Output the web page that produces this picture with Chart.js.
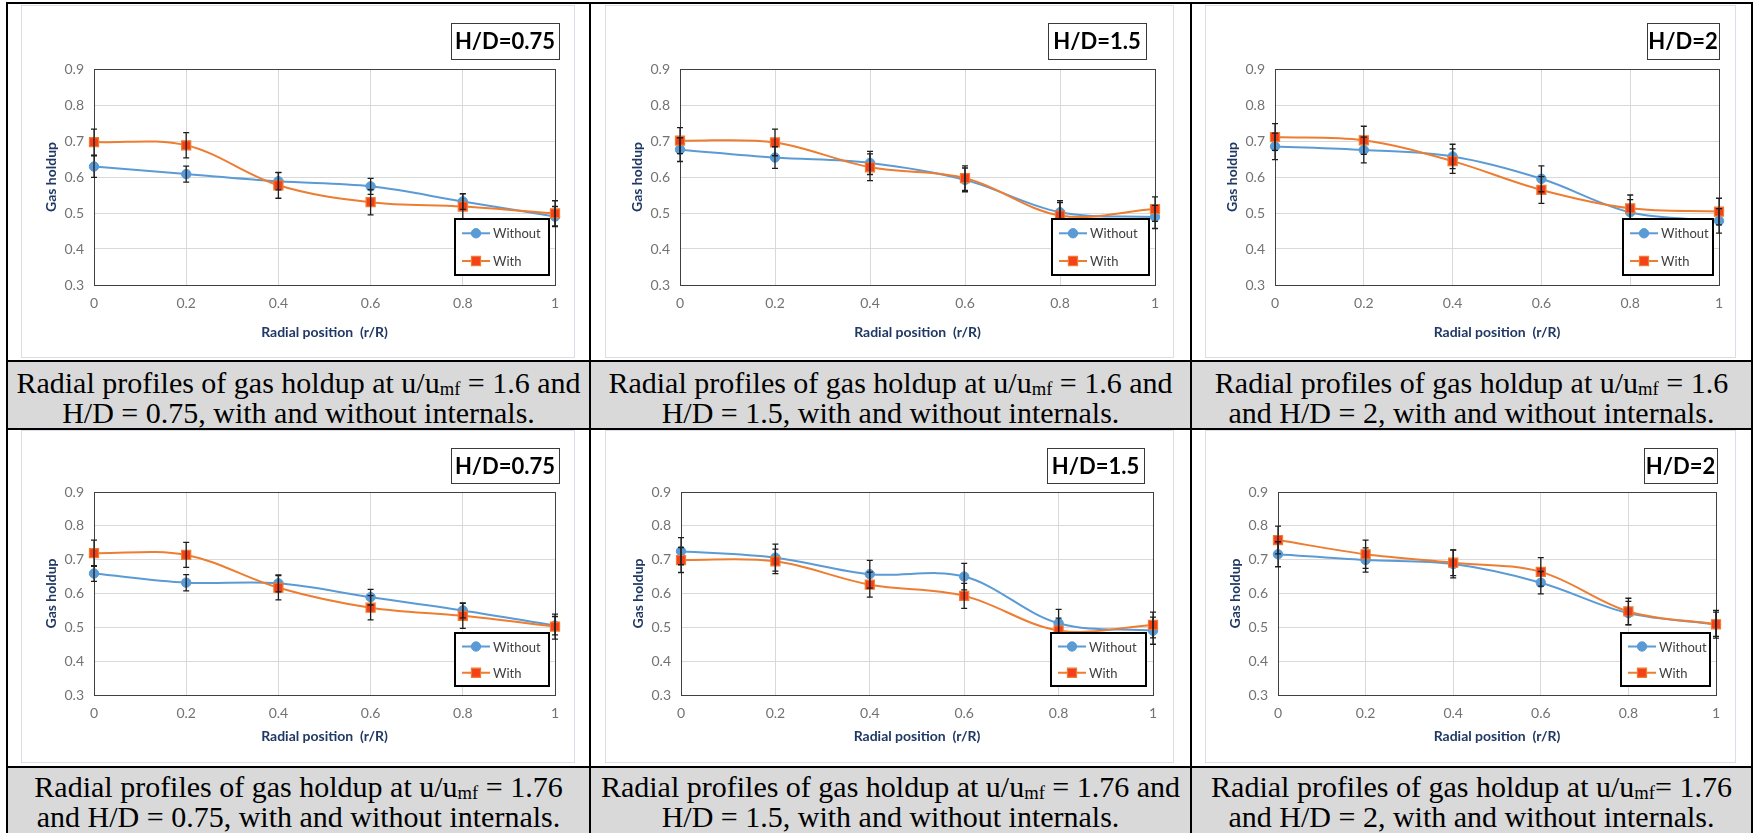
<!DOCTYPE html>
<html><head><meta charset="utf-8">
<script src="https://cdn.jsdelivr.net/npm/chart.js@4.4.1/dist/chart.umd.min.js"></script>
<style>
html,body{margin:0;padding:0;background:#fff;}
#page{position:relative;width:1754px;height:833px;overflow:hidden;background:#fff;}
.ln{position:absolute;background:#000;}
.cap{position:absolute;background:#d9d9d9;font-family:'Liberation Serif','Times New Roman',serif;font-size:30px;line-height:30px;color:#000;text-align:center;white-space:nowrap;box-sizing:border-box;}
.cap sub{font-size:0.62em;vertical-align:-0.1em;line-height:0;}
canvas{position:absolute;}
</style></head><body><div id="page"></div>
<script>
// ---------- data ----------
const RADIAL = [0, 0.2, 0.4, 0.6, 0.8, 1];
const X_TICKS = [0, 0.2, 0.4, 0.6, 0.8, 1];
const X_TICK_LABELS = ['0', '0.2', '0.4', '0.6', '0.8', '1'];
const Y_TICKS = [0.3, 0.4, 0.5, 0.6, 0.7, 0.8, 0.9];
const Y_TICK_LABELS = ['0.3', '0.4', '0.5', '0.6', '0.7', '0.8', '0.9'];
const SERIES_NAMES = ['Without', 'With'];
const X_TITLE = 'Radial position  (r/R)';
const Y_TITLE = 'Gas holdup';
const HD_LABELS = ['H/D=0.75', 'H/D=1.5', 'H/D=2', 'H/D=0.75', 'H/D=1.5', 'H/D=2'];

// u/umf = 1.6
const P1_WITHOUT     = [0.629, 0.608, 0.588, 0.574, 0.532, 0.490];
const P1_WITHOUT_ERR = [0.030, 0.022, 0.024, 0.022, 0.022, 0.028];
const P1_WITH        = [0.697, 0.688, 0.577, 0.530, 0.518, 0.499];
const P1_WITH_ERR    = [0.036, 0.035, 0.036, 0.035, 0.035, 0.035];

const P2_WITHOUT     = [0.676, 0.654, 0.639, 0.592, 0.502, 0.489];
const P2_WITHOUT_ERR = [0.033, 0.030, 0.032, 0.033, 0.032, 0.032];
const P2_WITH        = [0.701, 0.696, 0.627, 0.597, 0.493, 0.511];
const P2_WITH_ERR    = [0.036, 0.037, 0.037, 0.034, 0.036, 0.034];

const P3_WITHOUT     = [0.685, 0.675, 0.657, 0.595, 0.502, 0.478];
const P3_WITHOUT_ERR = [0.037, 0.036, 0.034, 0.036, 0.035, 0.034];
const P3_WITH        = [0.711, 0.702, 0.644, 0.564, 0.513, 0.504];
const P3_WITH_ERR    = [0.037, 0.039, 0.034, 0.037, 0.037, 0.037];

// u/umf = 1.76
const P4_WITHOUT     = [0.659, 0.632, 0.630, 0.589, 0.550, 0.505];
const P4_WITHOUT_ERR = [0.023, 0.024, 0.025, 0.023, 0.022, 0.027];
const P4_WITH        = [0.719, 0.714, 0.617, 0.558, 0.534, 0.502];
const P4_WITH_ERR    = [0.039, 0.037, 0.036, 0.036, 0.037, 0.037];

const P5_WITHOUT     = [0.725, 0.706, 0.657, 0.650, 0.512, 0.490];
const P5_WITHOUT_ERR = [0.040, 0.040, 0.041, 0.039, 0.041, 0.040];
const P5_WITH        = [0.699, 0.695, 0.626, 0.593, 0.491, 0.507];
const P5_WITH_ERR    = [0.037, 0.036, 0.037, 0.037, 0.036, 0.038];

const P6_WITHOUT     = [0.716, 0.699, 0.687, 0.632, 0.542, 0.509];
const P6_WITHOUT_ERR = [0.037, 0.036, 0.041, 0.033, 0.035, 0.036];
const P6_WITH        = [0.758, 0.716, 0.691, 0.664, 0.547, 0.509];
const P6_WITH_ERR    = [0.041, 0.042, 0.038, 0.042, 0.039, 0.041];

const PANEL_DATA = [
  [P1_WITHOUT, P1_WITHOUT_ERR, P1_WITH, P1_WITH_ERR],
  [P2_WITHOUT, P2_WITHOUT_ERR, P2_WITH, P2_WITH_ERR],
  [P3_WITHOUT, P3_WITHOUT_ERR, P3_WITH, P3_WITH_ERR],
  [P4_WITHOUT, P4_WITHOUT_ERR, P4_WITH, P4_WITH_ERR],
  [P5_WITHOUT, P5_WITHOUT_ERR, P5_WITH, P5_WITH_ERR],
  [P6_WITHOUT, P6_WITHOUT_ERR, P6_WITH, P6_WITH_ERR]
];

const CAPTIONS = [
  ['Radial profiles of gas holdup at u/u', 'mf', ' = 1.6 and', 'H/D = 0.75, with and without internals.'],
  ['Radial profiles of gas holdup at u/u', 'mf', ' = 1.6 and', 'H/D = 1.5, with and without internals.'],
  ['Radial profiles of gas holdup at u/u', 'mf', ' = 1.6', 'and H/D = 2, with and without internals.'],
  ['Radial profiles of gas holdup at u/u', 'mf', ' = 1.76', 'and H/D = 0.75, with and without internals.'],
  ['Radial profiles of gas holdup at u/u', 'mf', ' = 1.76 and', 'H/D = 1.5, with and without internals.'],
  ['Radial profiles of gas holdup at u/u', 'mf', '= 1.76', 'and H/D = 2, with and without internals.']
];

// ---------- layout (positions / styles) ----------
const LAYOUT = [
  {box:[21,5,554,353],   plot:[94,69,555,285],   hd:[451,23,559,59],    leg:[455,219,549,275],   xTitleOff:47},
  {box:[605,5,569,353],  plot:[680,69,1155,285], hd:[1048,23,1146,59],  leg:[1052,219,1149,275], xTitleOff:47},
  {box:[1205,5,531,353], plot:[1275,69,1719,285],hd:[1647,23,1719,59],  leg:[1623,219,1713,275], xTitleOff:47},
  {box:[21,430,554,333], plot:[94,492,555,695],  hd:[451,448,559,483],  leg:[455,633,549,686],   xTitleOff:41},
  {box:[605,430,569,333],plot:[681,492,1153,695],hd:[1047,448,1144,483],leg:[1051,633,1146,686], xTitleOff:41},
  {box:[1205,430,531,333],plot:[1278,492,1716,695],hd:[1644,448,1717,483],leg:[1621,633,1710,686],xTitleOff:41}
];
const COLS = [[8,589],[591,1190],[1192,1751]];
const CAP_ROWS = [[362,428,6],[768,840,4]];
const V_LINES = [6, 589, 1190, 1751];
const H_LINES = [2, 360, 428, 766];

const BLUE = '#5b9bd5', ORANGE = '#ed7d31', MARK_RED = '#f5401a';
const TITLE_COLOR = '#1f3864';
const TICK_FONT = {family:'Lato', size:14};
const TITLE_FONT = {family:'Lato', size:14, weight:'bold'};

const page = document.getElementById('page');

// table lines
V_LINES.forEach(x => { const d = document.createElement('div'); d.className='ln'; d.style.cssText += `left:${x}px;top:2px;width:2px;height:840px;`; page.appendChild(d); });
H_LINES.forEach(y => { const d = document.createElement('div'); d.className='ln'; d.style.cssText += `left:6px;top:${y}px;width:1747px;height:2px;`; page.appendChild(d); });

// captions
CAPTIONS.forEach((c, i) => {
  const col = COLS[i % 3], row = CAP_ROWS[Math.floor(i / 3)];
  const d = document.createElement('div');
  d.className = 'cap';
  d.style.left = col[0] + 'px'; d.style.width = (col[1] - col[0]) + 'px';
  d.style.top = row[0] + 'px'; d.style.height = (row[1] - row[0]) + 'px';
  d.style.paddingTop = row[2] + 'px';
  d.innerHTML = c[0] + '<sub>' + c[1] + '</sub>' + c[2] + '<br>' + c[3];
  page.appendChild(d);
});

// ---------- plugins ----------
const framePlugin = {
  id: 'frame',
  beforeDraw(chart) {
    const {ctx, width, height} = chart;
    ctx.save();
    ctx.fillStyle = '#fff'; ctx.fillRect(0, 0, width, height);
    ctx.strokeStyle = '#dcdde6'; ctx.lineWidth = 1;
    ctx.strokeRect(0.5, 0.5, width - 1, height - 1);
    ctx.restore();
  },
  beforeDatasetsDraw(chart) {
    const {ctx, chartArea: a} = chart;
    ctx.save();
    ctx.strokeStyle = '#404040'; ctx.lineWidth = 1;
    ctx.strokeRect(Math.round(a.left) + 0.5, Math.round(a.top) + 0.5, Math.round(a.right - a.left), Math.round(a.bottom - a.top));
    ctx.restore();
  }
};

const errorBarPlugin = {
  id: 'errbars',
  afterDatasetsDraw(chart) {
    const {ctx, scales: {x, y}} = chart;
    ctx.save();
    ctx.strokeStyle = '#1e1e1e'; ctx.lineWidth = 1.3;
    chart.data.datasets.forEach(ds => {
      ds.data.forEach((p, k) => {
        const e = ds.err[k];
        const px = x.getPixelForValue(p.x);
        const y1 = y.getPixelForValue(p.y + e), y2 = y.getPixelForValue(p.y - e);
        ctx.beginPath();
        ctx.moveTo(px, y1); ctx.lineTo(px, y2);
        ctx.moveTo(px - 3, y1); ctx.lineTo(px + 3, y1);
        ctx.moveTo(px - 3, y2); ctx.lineTo(px + 3, y2);
        ctx.stroke();
      });
    });
    ctx.restore();
  }
};

function drawMarker(ctx, ds, cx, cy) {
  ctx.save();
  ctx.fillStyle = ds.pointBackgroundColor; ctx.strokeStyle = ds.pointBorderColor; ctx.lineWidth = ds.pointBorderWidth;
  ctx.beginPath();
  if (ds.pointStyle === 'rect') { const s = ds.pointRadius * Math.SQRT1_2; ctx.rect(cx - s, cy - s, 2 * s, 2 * s); }
  else ctx.arc(cx, cy, ds.pointRadius, 0, Math.PI * 2);
  ctx.fill(); ctx.stroke();
  ctx.restore();
}

const boxesPlugin = {
  id: 'boxes',
  afterDraw(chart, args, opts) {
    const {ctx} = chart;
    const [ox, oy] = opts.origin;
    // H/D label
    const [h1, v1, h2, v2] = opts.hd;
    ctx.save();
    ctx.fillStyle = '#fff';
    ctx.fillRect(h1 - ox, v1 - oy, h2 - h1, v2 - v1);
    ctx.strokeStyle = '#3a3a3a'; ctx.lineWidth = 1;
    ctx.strokeRect(h1 - ox + 0.5, v1 - oy + 0.5, h2 - h1, v2 - v1);
    ctx.fillStyle = '#000'; ctx.font = 'bold 22px Lato'; ctx.textAlign = 'center'; ctx.textBaseline = 'middle';
    ctx.fillText(opts.hdText, (h1 + h2) / 2 - ox, (v1 + v2) / 2 - oy + 1);
    // legend
    const [l1, t1, l2, t2] = opts.leg;
    const lx = l1 - ox, ly = t1 - oy, lw = l2 - l1, lh = t2 - t1;
    ctx.fillStyle = '#fff'; ctx.fillRect(lx, ly, lw, lh);
    ctx.strokeStyle = '#000'; ctx.lineWidth = 2; ctx.strokeRect(lx, ly, lw, lh);
    ctx.font = '13px Lato'; ctx.textAlign = 'left'; ctx.fillStyle = '#404040';
    chart.data.datasets.forEach((ds, k) => {
      const ry = ly + lh * (k === 0 ? 0.255 : 0.75);
      ctx.strokeStyle = ds.borderColor; ctx.lineWidth = 2;
      ctx.beginPath(); ctx.moveTo(lx + 7, ry); ctx.lineTo(lx + 35, ry); ctx.stroke();
      drawMarker(ctx, ds, lx + 21, ry);
      ctx.fillStyle = '#404040';
      ctx.fillText(ds.label, lx + 38, ry + 1);
    });
    ctx.restore();
  }
};

// ---------- charts ----------
PANEL_DATA.forEach((pd, i) => {
  const L = LAYOUT[i];
  const [bx, by, bw, bh] = L.box;
  const [pl, pt, pr, pb] = L.plot;
  const cv = document.createElement('canvas');
  cv.width = bw; cv.height = bh;
  cv.style.left = bx + 'px'; cv.style.top = by + 'px';
  cv.style.width = bw + 'px'; cv.style.height = bh + 'px';
  page.appendChild(cv);
  const tlh = TITLE_FONT.size * 1.2;
  new Chart(cv, {
    type: 'line',
    data: {
      datasets: [
        {
          label: SERIES_NAMES[0],
          data: RADIAL.map((x, k) => ({x: x, y: pd[0][k]})),
          err: pd[1],
          borderColor: BLUE, backgroundColor: BLUE, borderWidth: 2,
          pointStyle: 'circle', pointRadius: 4.7, pointBackgroundColor: BLUE, pointBorderColor: BLUE, pointBorderWidth: 1,
          tension: 0.35, clip: false, order: 1
        },
        {
          label: SERIES_NAMES[1],
          data: RADIAL.map((x, k) => ({x: x, y: pd[2][k]})),
          err: pd[3],
          borderColor: ORANGE, backgroundColor: ORANGE, borderWidth: 2,
          pointStyle: 'rect', pointRadius: 6.4, pointBackgroundColor: MARK_RED, pointBorderColor: ORANGE, pointBorderWidth: 1.2,
          tension: 0.35, clip: false, order: 0
        }
      ]
    },
    options: {
      responsive: false, animation: false, devicePixelRatio: 1,
      layout: {padding: {left: 0, top: pt - by, right: bx + bw - pr, bottom: 0}},
      plugins: {
        legend: {display: false}, tooltip: {enabled: false},
        boxes: {origin: [bx, by], hd: L.hd, leg: L.leg, hdText: HD_LABELS[i]}
      },
      scales: {
        x: {
          type: 'linear', min: X_TICKS[0], max: X_TICKS[X_TICKS.length - 1],
          afterBuildTicks: s => { s.ticks = X_TICKS.map(v => ({value: v})); },
          afterFit: s => { s.height = by + bh - pb; },
          grid: {color: '#d9d9d9', drawTicks: false, lineWidth: 1},
          border: {display: false},
          ticks: {padding: 10, color: '#737373', font: TICK_FONT, maxRotation: 0, autoSkip: false,
            callback: (v, idx) => X_TICK_LABELS[idx]},
          title: {display: true, text: X_TITLE, color: TITLE_COLOR, font: TITLE_FONT,
            padding: {top: 0, bottom: (by + bh) - (pb + L.xTitleOff) - tlh / 2}}
        },
        y: {
          type: 'linear', min: Y_TICKS[0], max: Y_TICKS[Y_TICKS.length - 1],
          afterBuildTicks: s => { s.ticks = Y_TICKS.map(v => ({value: v})); },
          afterFit: s => { s.width = pl - bx; },
          grid: {color: '#d9d9d9', drawTicks: false, lineWidth: 1},
          border: {display: false},
          ticks: {padding: 10, color: '#737373', font: TICK_FONT, autoSkip: false,
            callback: (v, idx) => Y_TICK_LABELS[idx]},
          title: {display: true, text: Y_TITLE, color: TITLE_COLOR, font: TITLE_FONT,
            padding: {top: (pl - 43) - bx - tlh / 2, bottom: 0}}
        }
      }
    },
    plugins: [framePlugin, errorBarPlugin, boxesPlugin]
  });
});
</script></body></html>
